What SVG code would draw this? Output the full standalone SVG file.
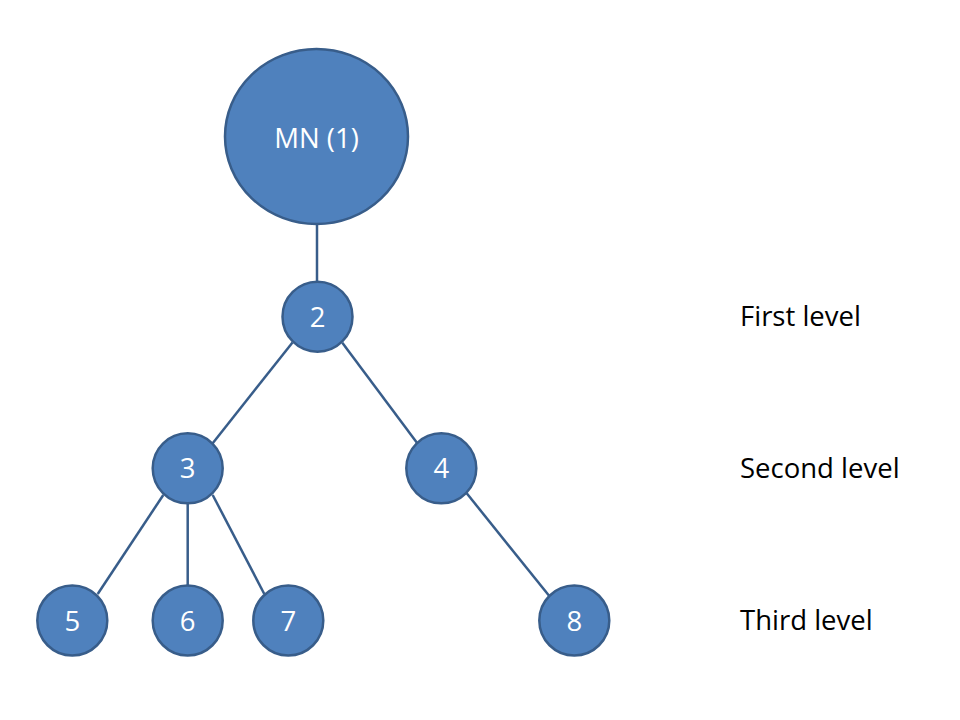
<svg xmlns="http://www.w3.org/2000/svg" width="960" height="720" viewBox="0 0 960 720">
<style>
.node{fill:#4F81BD;stroke:#385D8A;stroke-width:2.5}
.nt{font-family:"Open Sans","Noto Sans","Liberation Sans",sans-serif;font-size:27.5px;fill:#FFFFFF;text-anchor:middle}
.lbl{font-family:"Open Sans","Noto Sans","Liberation Sans",sans-serif;font-size:27.5px;fill:#000000}
.edge{stroke:#385D8A;stroke-width:2.5;fill:none}
</style>
<rect width="960" height="720" fill="#FFFFFF"/>
<g id="connectors">
<line class="edge" x1="317" y1="224" x2="317" y2="282"/>
<line class="edge" x1="292.5" y1="342.5" x2="212.5" y2="443.5"/>
<line class="edge" x1="342.3" y1="342.7" x2="417.3" y2="443.3"/>
<line class="edge" x1="163.3" y1="495" x2="97.7" y2="594"/>
<line class="edge" x1="187.7" y1="503" x2="187.7" y2="586"/>
<line class="edge" x1="212.7" y1="495" x2="264.3" y2="594"/>
<line class="edge" x1="466.7" y1="493.3" x2="549.3" y2="596"/>
</g>
<g id="node1"><ellipse class="node" cx="316.5" cy="136.5" rx="91.5" ry="87.5"/><text class="nt" x="316.5" y="148.3">MN (1)</text></g>
<g id="node2"><circle class="node" cx="317.5" cy="316.7" r="35"/><text class="nt" x="317.5" y="326.7">2</text></g>
<g id="node3"><circle class="node" cx="187.7" cy="468.3" r="35"/><text class="nt" x="187.7" y="478.3">3</text></g>
<g id="node4"><circle class="node" cx="441.3" cy="468.3" r="35"/><text class="nt" x="441.3" y="478.3">4</text></g>
<g id="node5"><circle class="node" cx="72.3" cy="620.5" r="35"/><text class="nt" x="72.3" y="630.5">5</text></g>
<g id="node6"><circle class="node" cx="187.7" cy="620.5" r="35"/><text class="nt" x="187.7" y="630.5">6</text></g>
<g id="node7"><circle class="node" cx="288.3" cy="620.5" r="35"/><text class="nt" x="288.3" y="630.5">7</text></g>
<g id="node8"><circle class="node" cx="574.3" cy="620.5" r="35"/><text class="nt" x="574.3" y="630.5">8</text></g>
<g id="labels">
<text class="lbl" x="740" y="326">First level</text>
<text class="lbl" x="740" y="478.3">Second level</text>
<text class="lbl" x="740" y="630">Third level</text>
</g>
</svg>
